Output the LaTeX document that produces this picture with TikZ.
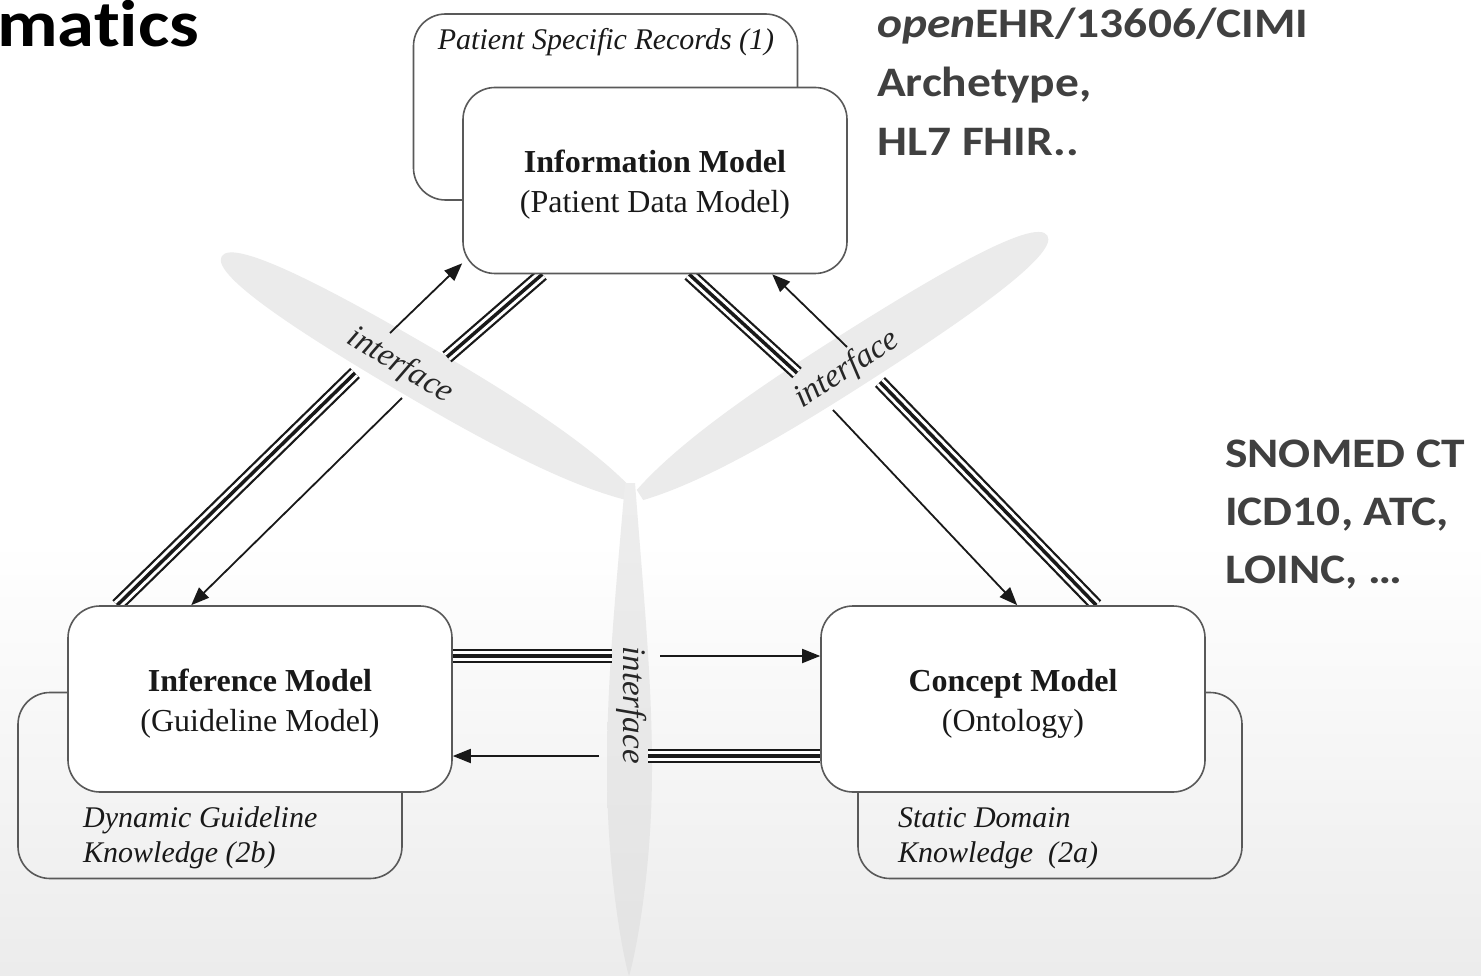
\documentclass[tikz,border=0pt]{standalone}
\usepackage{fontspec}
\setmainfont{Liberation Serif}
\newfontfamily\calib[FakeStretch=1.13,Ligatures=NoCommon]{Carlito}
\usetikzlibrary{arrows.meta}
\pgfdeclarelayer{back}
\pgfdeclarelayer{mid}
\pgfsetlayers{back,mid,main}
\tikzset{
  pics/blade/.style n args={2}{code={
    \path[pic actions] (0,6) .. controls (0.12*#1,0.42*#2) and (0.3*#1,0.5*#2) .. (0.5*#1,0.5*#2)
      .. controls (0.75*#1,0.5*#2) and (#1,0.42*#2) .. (#1,0)
      .. controls (#1,-0.42*#2) and (0.75*#1,-0.5*#2) .. (0.5*#1,-0.5*#2)
      .. controls (0.3*#1,-0.5*#2) and (0.12*#1,-0.42*#2) .. (0,-6) -- cycle;
  }}
}
\begin{document}
\begin{tikzpicture}[x=1pt,y=-1pt,
  frontbox/.style={draw=black!65, line width=1.6pt, fill=white, rounded corners=32pt,
    minimum width=384pt, minimum height=186pt, inner sep=0pt},
  boxtext/.style={align=center, font=\fontsize{32}{40}\selectfont, text=black!90, inner sep=0pt},
  backbox/.style={draw=black!65, line width=1.6pt, rounded corners=32pt,
    minimum width=384pt, minimum height=186pt, inner sep=0pt},
  ital/.style={font=\fontsize{30}{35}\selectfont\itshape, text=black!90, inner sep=0pt},
  triple/.style={line width=14pt, draw=black!90, postaction={draw=white, line width=9.5pt},
    postaction={draw=black!90, line width=3.5pt}},
  thinarrow/.style={line width=1.8pt, draw=black!90, -{Triangle[length=18pt,width=14pt]}},
  iface/.style={font=\fontsize{33}{36}\selectfont\itshape, text=black!85, inner sep=0pt},
  sidetext/.style={font=\calib\bfseries\fontsize{42}{58}\selectfont, text=black!75,
    anchor=base west, inner sep=0pt},
  bladecol/.style={fill=gray!16}
]
\useasboundingbox (0,0) rectangle (1481,976);
\begin{pgfonlayer}{back}
  \fill[white] (0,0) rectangle (1481,976);
  \shade[top color=white, bottom color=gray!15] (0,540) rectangle (1481,976);
\end{pgfonlayer}

% back boxes
\node[backbox] (psr) at (605.5,107) {};
\node[backbox] (dgk) at (210,785.5) {};
\node[backbox] (sdk) at (1050,785.5) {};
\node[ital, anchor=base] (psrl) at (606,50) {Patient Specific Records (1)};
\node[ital, anchor=base west] (dgk1) at (83,827) {Dynamic Guideline};
\node[ital, anchor=base west] (dgk2) at (83,862) {Knowledge (2b)};
\node[ital, anchor=base west] (sdk1) at (898,827) {Static Domain};
\node[ital, anchor=base west] (sdk2) at (898,862) {Knowledge\ \ (2a)};

% front boxes
\node[frontbox] (info) at (655,180.5) {};
\node[frontbox] (inf) at (260,699) {};
\node[frontbox] (con) at (1013,699) {};
\node[boxtext] (infot) at ([yshift=-4.5pt]info.center) {\textbf{Information Model}\\(Patient Data Model)};
\node[boxtext] (inft) at ([yshift=-5pt]inf.center) {\textbf{Inference Model}\\(Guideline Model)};
\node[boxtext] (cont) at ([yshift=-5pt]con.center) {\textbf{Concept Model}\\(Ontology)};

\begin{pgfonlayer}{mid}
  % interface blades
  \pic[bladecol, rotate=149.7] at (630,495) {blade={473}{54}};
  \pic[bladecol, rotate=32.5] at (640,495) {blade={483}{54}};
  \shade[top color=gray!14, bottom color=gray!22]
    (625,483) .. controls (615,600) and (607,680) .. (607,769)
    .. controls (607,877) and (624,960) .. (629,976)
    .. controls (634,960) and (652,877) .. (652,769)
    .. controls (652,680) and (644,600) .. (635,483) -- cycle;

  % free ends of the connectors at the blades
  \coordinate (a1) at (390,333);
  \coordinate (a2) at (402,398);
  \coordinate (t3) at (355,373);
  \coordinate (t4) at (447,357);
  \coordinate (t5) at (797,373);
  \coordinate (a6) at (847,347);
  \coordinate (a7) at (833,410);
  \coordinate (t8) at (880,382);
  \coordinate (t9) at (612,656);
  \coordinate (a10) at (660,656);
  \coordinate (a11) at (599,756);
  \coordinate (t12) at (648,756);

  % left side
  \draw[thinarrow] (a1) -- ([yshift=11pt]info.south west);
  \draw[thinarrow] (a2) -- ([xshift=124pt]inf.north west);
  \draw[triple] ([xshift=50pt]inf.north west) -- (t3);
  \draw[triple] (t4) -- ([xshift=80pt]info.south west);
  % right side
  \draw[triple] ([xshift=227pt]info.south west) -- (t5);
  \draw[thinarrow] (a6) -- ([xshift=310pt]info.south west);
  \draw[thinarrow] (a7) -- ([xshift=197pt]con.north west);
  \draw[triple] (t8) -- ([xshift=276pt]con.north west);
  % bottom
  \draw[triple] ([yshift=43pt]inf.east) -- (t9);
  \draw[thinarrow] (a10) -- ([yshift=43pt]con.west);
  \draw[thinarrow] (a11) -- ([yshift=-57pt]inf.east);
  \draw[triple] (t12) -- ([yshift=-57pt]con.west);
\end{pgfonlayer}

% interface labels
\node[iface, rotate=-31] (if1) at (400,366) {interface};
\node[iface, rotate=33] (if2) at (847,370) {interface};
\node[iface, rotate=-90] (if3) at (632,705) {interface};

% slide texts
\node[font=\calib\bfseries\fontsize{66}{70}\selectfont, text=black, anchor=base west, inner sep=0pt] (title) at (-3,47) {matics};
\node[sidetext] (s1) at (877,38) {\textit{open}EHR/13606/CIMI};
\node[sidetext] (s2) at (877,97) {Archetype,};
\node[sidetext] (s3) at (877,156) {HL7 FHIR..};
\node[sidetext] (r1) at (1225,467) {SNOMED CT};
\node[sidetext] (r2) at (1225,525) {ICD10, ATC,};
\node[sidetext] (r3) at (1225,583) {LOINC, \dots};
\end{tikzpicture}
\end{document}
